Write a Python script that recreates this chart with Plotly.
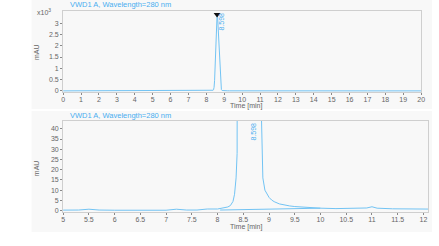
import plotly.graph_objects as go

# Chromatogram data (time in min, signal in mAU)
time_min = [0, 0.5, 1, 1.5, 2, 2.5, 3, 3.5, 4, 4.5, 5, 5.3, 5.5, 5.7, 6, 6.5, 7, 7.2, 7.4, 7.6, 7.8,
            8.0, 8.1, 8.2, 8.25, 8.3, 8.33, 8.36, 8.38, 8.4, 8.43, 8.46, 8.5, 8.53, 8.56, 8.6, 8.63,
            8.66, 8.7, 8.73, 8.76, 8.8, 8.84, 8.88, 8.92, 8.96, 9.0, 9.05, 9.1, 9.2, 9.3, 9.4, 9.5,
            9.7, 10, 10.3, 10.6, 10.9, 11.0, 11.1, 11.4, 11.7, 12, 12.5, 13, 14, 15, 16, 17, 18, 19, 20]
signal_mau = [0.3, 0.2, 0.3, 0.2, 0.3, 0.2, 0.3, 0.2, 0.3, 0.2, 0.2, 0.3, 0.7, 0.3, 0.2, 0.2, 0.2, 0.7, 0.3, 0.3, 0.8,
              0.8, 1.2, 1.8, 2.5, 4.5, 8, 16, 28, 48, 150, 450, 1200, 2000, 2800, 3380, 3250,
              2800, 2000, 1300, 700, 230, 60, 16, 10, 8, 6.5, 5.2, 4.4, 3.3, 2.7, 2.3, 2.0,
              1.6, 1.2, 1.0, 1.1, 1.3, 1.9, 1.2, 0.9, 0.7, 0.8, 0.6, 0.5, 0.4, 0.4, 0.3, 0.3, 0.3, 0.3, 0.3]

# Integration baseline
base_t = [8.05, 10.0]
base_y = [0.3, 1.2]

peak_rt = 8.6
peak_h = 3380
peak_label = "8.598"

top_yticks = [0, 500, 1000, 1500, 2000, 2500, 3000]
top_yticktext = ["0", "0.5", "1", "1.5", "2", "2.5", "3"]
top_xticks = list(range(0, 21))
bot_xticks = [5, 5.5, 6, 6.5, 7, 7.5, 8, 8.5, 9, 9.5, 10, 10.5, 11, 11.5, 12]
bot_xticktext = ["5", "5.5", "6", "6.5", "7", "7.5", "8", "8.5", "9", "9.5", "10", "10.5", "11", "11.5", "12"]
bot_yticks = [0, 5, 10, 15, 20, 25, 30, 35, 40]

title_text = "VWD1 A, Wavelength=280 nm"
LINE = "#72c3f3"
TXT = "#4aaef0"
TICKC = "#666666"
FONT = "Liberation Sans, Arial, sans-serif"

fig = go.Figure()
fig.add_trace(go.Scatter(x=time_min, y=signal_mau, mode="lines", line=dict(color=LINE, width=1),
                         xaxis="x", yaxis="y", showlegend=False, hoverinfo="skip"))
fig.add_trace(go.Scatter(x=[peak_rt], y=[peak_h], mode="markers",
                         marker=dict(symbol="triangle-down", color="#111111", size=6),
                         xaxis="x", yaxis="y", showlegend=False))
fig.add_trace(go.Scatter(x=time_min, y=signal_mau, mode="lines", line=dict(color=LINE, width=1),
                         xaxis="x2", yaxis="y2", showlegend=False, hoverinfo="skip"))
fig.add_trace(go.Scatter(x=base_t, y=base_y, mode="lines", line=dict(color=LINE, width=1),
                         xaxis="x2", yaxis="y2", showlegend=False, hoverinfo="skip"))

axis_common = dict(showgrid=False, zeroline=False, showline=True, linecolor="#cfcfcf", linewidth=1,
                   mirror=True, ticks="outside", ticklen=2, tickcolor="#888888",
                   tickfont=dict(size=7, color=TICKC, family=FONT))

fig.update_layout(
    width=439, height=246,
    margin=dict(l=0, r=0, t=0, b=0),
    paper_bgcolor="white", plot_bgcolor="white",
    font=dict(family=FONT),
    xaxis=dict(domain=[0.1412, 0.968], range=[0, 20], tickvals=top_xticks, anchor="y",
               ticklabelstandoff=-2, **axis_common),
    yaxis=dict(domain=[0.622, 0.955], range=[-60, 3540], tickvals=top_yticks, ticktext=top_yticktext,
               anchor="x", **axis_common),
    xaxis2=dict(domain=[0.1412, 0.984], range=[5, 12.09], tickvals=bot_xticks, ticktext=bot_xticktext,
                anchor="y2", ticklabelstandoff=-2, **axis_common),
    yaxis2=dict(domain=[0.13, 0.504], range=[-0.8, 43.8], tickvals=bot_yticks, anchor="x2", **axis_common),
    shapes=[
        dict(type="rect", xref="paper", yref="paper", x0=30/439, x1=436/439, y0=1-110/246, y1=1.0,
             fillcolor="#f8f8f8", line=dict(width=0), layer="below"),
        dict(type="rect", xref="paper", yref="paper", x0=30/439, x1=436/439, y0=1-234/246, y1=1-112/246,
             fillcolor="#f8f8f8", line=dict(width=0), layer="below"),
    ],
    annotations=[
        dict(text=title_text, xref="paper", yref="paper", x=67/439, y=1-5/246, xanchor="left", yanchor="middle",
             showarrow=False, font=dict(size=7.5, color=TXT, family=FONT)),
        dict(text=title_text, xref="paper", yref="paper", x=67/439, y=1-116/246, xanchor="left", yanchor="middle",
             showarrow=False, font=dict(size=7.5, color=TXT, family=FONT)),
        dict(text="x10<sup>3</sup>", xref="paper", yref="paper", x=52/439, y=1-12/246, xanchor="right",
             yanchor="middle", showarrow=False, font=dict(size=7, color=TICKC, family=FONT)),
        dict(text="mAU", xref="paper", yref="paper", x=35/439, y=1-53/246, textangle=-90,
             xanchor="center", yanchor="middle", showarrow=False, font=dict(size=7, color=TICKC, family=FONT)),
        dict(text="mAU", xref="paper", yref="paper", x=35/439, y=1-170/246, textangle=-90,
             xanchor="center", yanchor="middle", showarrow=False, font=dict(size=7, color=TICKC, family=FONT)),
        dict(text="Time [min]", xref="paper", yref="paper", x=247/439, y=1-106.5/246,
             xanchor="center", yanchor="middle", showarrow=False, font=dict(size=7, color=TICKC, family=FONT)),
        dict(text="Time [min]", xref="paper", yref="paper", x=247/439, y=1-229/246,
             xanchor="center", yanchor="middle", showarrow=False, font=dict(size=7, color=TICKC, family=FONT)),
        dict(text=peak_label, xref="x", yref="y", x=8.85, y=3540, textangle=-90, xanchor="center",
             yanchor="top", showarrow=False, font=dict(size=7, color=TXT, family=FONT)),
        dict(text=peak_label, xref="x2", yref="y2", x=8.68, y=43.8, textangle=-90, xanchor="center",
             yanchor="top", showarrow=False, font=dict(size=7, color=TXT, family=FONT)),
    ],
)

fig.write_html("out.html")
